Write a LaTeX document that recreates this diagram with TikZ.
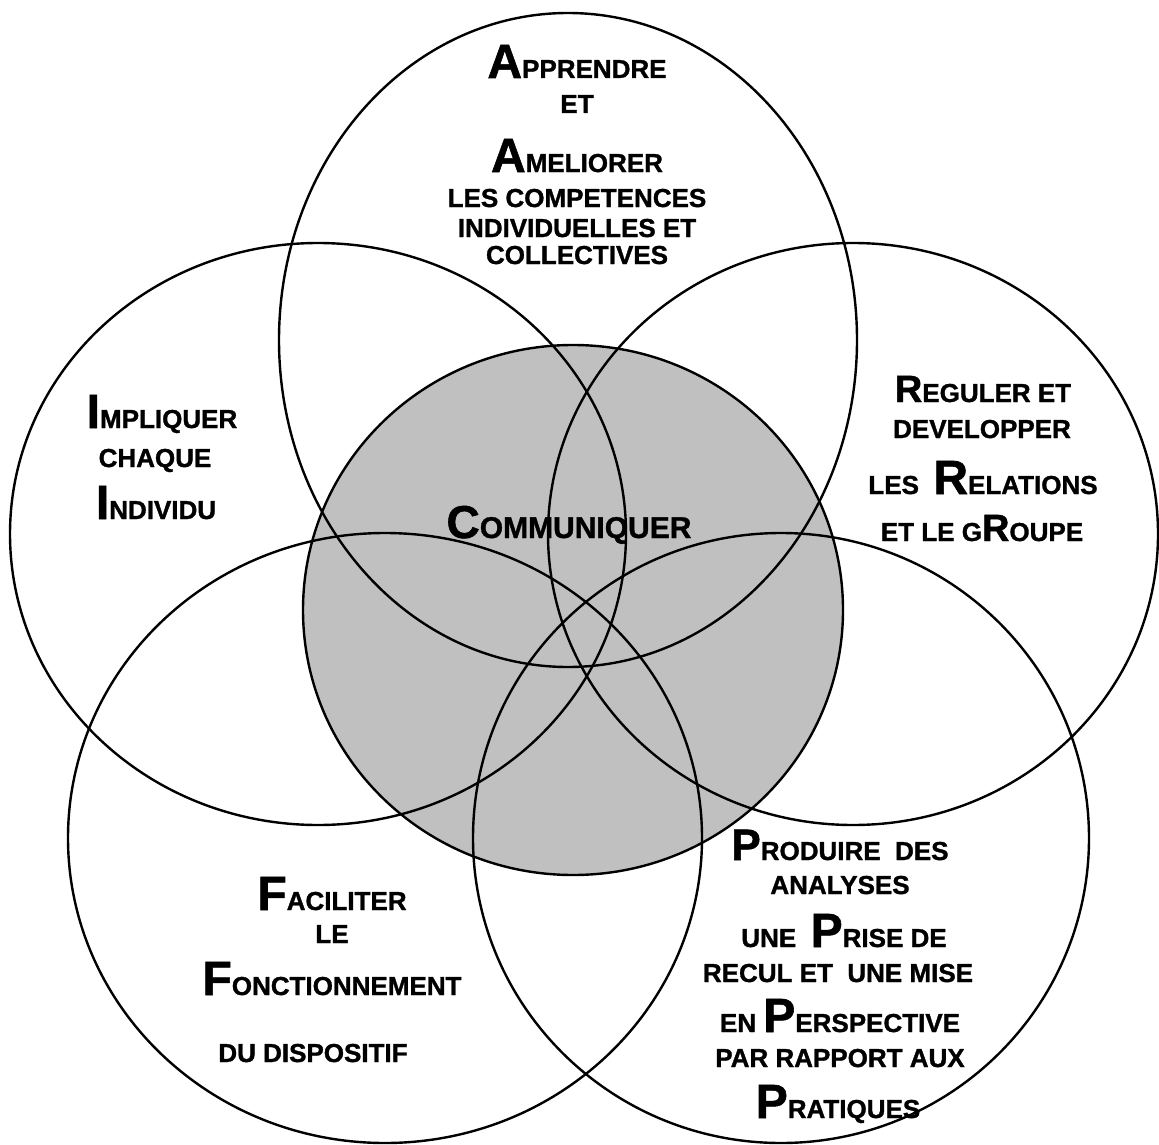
\documentclass[tikz,border=0pt]{standalone}
\usepackage{fontspec}
\setmainfont{Liberation Sans}[BoldFont={Liberation Sans Bold},BoldFeatures={FakeBold=1.2}]
\usepackage{xcolor}
\usepackage{tikz}
\definecolor{ringgray}{RGB}{192,192,192}
\newcommand\Ini[1]{{\fontsize{48pt}{48pt}\selectfont #1}}
\newcommand\Mid[1]{{\fontsize{38pt}{38pt}\selectfont #1}}
\tikzset{ring/.style={line width=2.4pt},
  lbl/.style={anchor=base,inner sep=0pt,font=\fontsize{26pt}{26pt}\bfseries\selectfont}}

\begin{document}
\begin{tikzpicture}[x=1pt,y=-1pt]
	\useasboundingbox (0,0) rectangle (1159,1145);
	\fill[ringgray] (573,610) ellipse [x radius=270pt,y radius=265pt];
	\draw[ring] (568,340) ellipse [x radius=289pt,y radius=327pt];
	\draw[ring] (318,534) ellipse [x radius=308pt,y radius=291pt];
	\draw[ring] (853,534) ellipse [x radius=305pt,y radius=291pt];
	\draw[ring] (385,838) ellipse [x radius=317pt,y radius=305pt];
	\draw[ring] (781,838) ellipse [x radius=308pt,y radius=305pt];
	\draw[ring] (573,610) ellipse [x radius=270pt,y radius=265pt];
	% top
	\node[lbl] (app1) at (577,78)  {\Ini{A}PPRENDRE};
	\node[lbl] (app2) at (577,113) {ET};
	\node[lbl] (app3) at (577,172) {\Ini{A}MELIORER};
	\node[lbl] (app4) at (577,207) {LES COMPETENCES};
	\node[lbl] (app5) at (577,237) {INDIVIDUELLES ET};
	\node[lbl] (app6) at (577,264) {COLLECTIVES};
	% left
	\node[lbl] (imp1) at (162,428) {\Ini{I}MPLIQUER};
	\node[lbl] (imp2) at (155,467) {CHAQUE};
	\node[lbl] (imp3) at (156,519) {\Ini{I}NDIVIDU};
	% right
	\node[lbl] (reg1) at (983,402) {\Mid{R}EGULER ET};
	\node[lbl] (reg2) at (982,438) {DEVELOPPER};
	\node[lbl] (reg3) at (983,494) {LES\ \ \Ini{R}ELATIONS};
	\node[lbl] (reg4) at (982,541) {ET LE G\Mid{R}OUPE};
	% centre
	\node[lbl,font=\fontsize{30pt}{30pt}\bfseries\selectfont] (com) at (569,538)
		{{\fontsize{46pt}{46pt}\selectfont C}OMMUNIQUER};
	% bottom right
	\node[lbl] (pro1) at (840,860)  {{\fontsize{44pt}{44pt}\selectfont P}RODUIRE\ \ DES};
	\node[lbl] (pro2) at (840,894)  {ANALYSES};
	\node[lbl] (pro3) at (844,947)  {UNE\ \ \Ini{P}RISE DE};
	\node[lbl] (pro4) at (838,982)  {RECUL ET\ \ UNE MISE};
	\node[lbl] (pro5) at (840,1032) {EN \Ini{P}ERSPECTIVE};
	\node[lbl] (pro6) at (840,1067) {PAR RAPPORT AUX};
	\node[lbl] (pro7) at (838,1118) {\Ini{P}RATIQUES};
	% bottom left
	\node[lbl] (fac1) at (332,910)  {\Ini{F}ACILITER};
	\node[lbl] (fac2) at (332,943)  {LE};
	\node[lbl] (fac3) at (332,995)  {\Ini{F}ONCTIONNEMENT};
	\node[lbl] (fac4) at (313,1062) {DU DISPOSITIF};
\end{tikzpicture}
\end{document}
